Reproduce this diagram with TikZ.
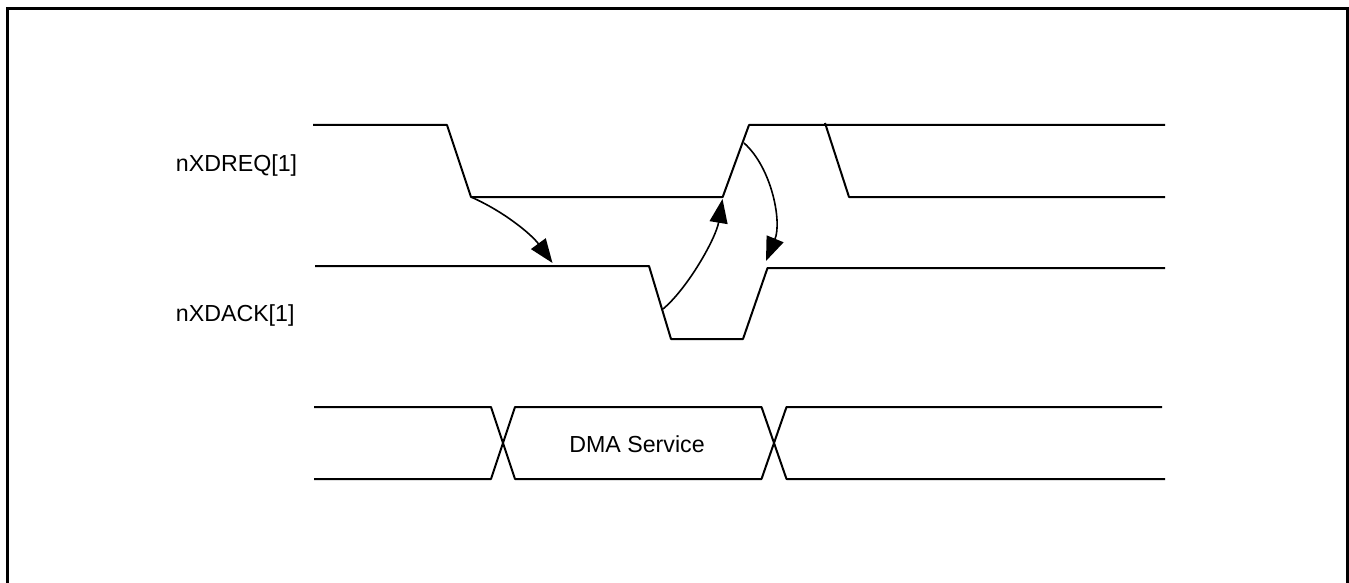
\documentclass[tikz,border=0pt]{standalone}
\usepackage{fontspec}
\setmainfont{Liberation Sans}
\usetikzlibrary{arrows.meta}

\begin{document}
\begin{tikzpicture}[x=0.5pt,y=-0.5pt,>={Triangle[length=12pt,width=9pt]},
  sig/.style={line width=1pt,line join=round},
  dep/.style={line width=0.8pt,->},
  lbl/.style={inner sep=0pt,font=\fontsize{11.6}{14}\selectfont}]
\useasboundingbox (0,0) rectangle (1349,583);
\draw[line width=1.5pt] (7.5,583)--(7.5,8.7)--(1347.5,8.7)--(1347.5,583);
% request line
\node[lbl,anchor=base west] (req) at (175.5,171.7) {nXDREQ[1]};
\draw[sig] (313,125)--(447,125)--(471,197)--(722.7,197)--(749,125)--(1165,125);
\draw[sig] (825,123)--(849,197)--(1165,197);
% acknowledge line
\node[lbl,anchor=base west] (ack) at (175.5,321.7) {nXDACK[1]};
\draw[sig] (315,266)--(649,266)--(671,339)--(743,339)--(767.5,268)--(1165,268);
% bus
\draw[sig] (314,407)--(491,407)--(515,479)--(761.5,479)--(786.5,407)--(1162,407);
\draw[sig] (314,479)--(491,479)--(515,407)--(761.5,407)--(786.5,479)--(1165,479);
\node[lbl,anchor=base] (dma) at (637,452) {DMA Service};
% handshake
\coordinate (reqfall) at (471,197);\coordinate (ackhi) at (552.5,263);
\coordinate (ackfall) at (663,309);\coordinate (reqrise) at (722.5,199);
\coordinate (reqhi) at (744,143);\coordinate (ackrise) at (766,261);
\draw[dep] (reqfall) .. controls (505,212) and (532,235) .. (ackhi);
\draw[dep] (ackfall) .. controls (688,288) and (716,238) .. (reqrise);
\draw[dep] (reqhi) .. controls (772,168) and (782,222) .. (ackrise);
\end{tikzpicture}
\end{document}
